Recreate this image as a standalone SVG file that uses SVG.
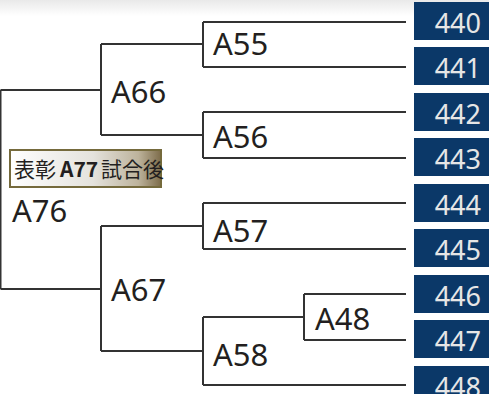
<svg xmlns="http://www.w3.org/2000/svg" width="489" height="394" viewBox="0 0 489 394">
<defs>
<linearGradient id="topband" x1="0" y1="0" x2="0" y2="1">
<stop offset="0" stop-color="#e9e9e9"/>
<stop offset="1" stop-color="#ffffff"/>
</linearGradient>
<linearGradient id="award" x1="0" y1="0" x2="1" y2="0">
<stop offset="0" stop-color="#ffffff"/>
<stop offset="0.55" stop-color="#e4e2dc"/>
<stop offset="0.85" stop-color="#bdb39c"/>
<stop offset="1" stop-color="#7d6c4a"/>
</linearGradient>
<style>
.ln{fill:none;stroke:#333333;stroke-width:2}
.lbl{font-family:"Noto Sans","Liberation Sans",sans-serif;font-size:31px;fill:#231f20}
.num rect{fill:#0b3868}
.num text{font-family:"Noto Sans","Liberation Sans",sans-serif;font-size:27px;fill:#e6e6e6;text-anchor:end}
.aw{font-family:"Noto Sans CJK JP","Noto Sans",sans-serif;font-size:21px;fill:#231f20}
</style>
</defs>
<rect x="0" y="0" width="489" height="394" fill="#ffffff"/>
<rect x="0" y="0" width="489" height="16" fill="url(#topband)"/>
<g id="connectors">
<path class="ln" d="M0.5,90 H101 M0.5,289 H101 M0.5,90 V289"/>
<path class="ln" d="M101,44 V135 M101,44 H203 M101,135 H203"/>
<path class="ln" d="M101,226 V351 M101,226 H203 M101,351 H203"/>
<path class="ln" d="M203,22 V67 M203,22 H406 M203,67 H406"/>
<path class="ln" d="M203,112 V158 M203,112 H406 M203,158 H406"/>
<path class="ln" d="M203,203 V249 M203,203 H406 M203,249 H406"/>
<path class="ln" d="M203,317 V385 M203,317 H304 M203,385 H406"/>
<path class="ln" d="M304,294 V340 M304,294 H406 M304,340 H406"/>
</g>
<g id="A76"><text class="lbl" x="12" y="222">A76</text></g>
<g id="A66"><text class="lbl" x="111" y="103">A66</text></g>
<g id="A67"><text class="lbl" x="111" y="301">A67</text></g>
<g id="A55"><text class="lbl" x="213" y="55">A55</text></g>
<g id="A56"><text class="lbl" x="213" y="148">A56</text></g>
<g id="A57"><text class="lbl" x="213" y="242">A57</text></g>
<g id="A58"><text class="lbl" x="213" y="366">A58</text></g>
<g id="A48"><text class="lbl" x="315" y="330">A48</text></g>
<g id="award">
<rect x="10" y="150" width="151" height="37" fill="url(#award)" stroke="#756a3c" stroke-width="2"/>
<text class="aw" y="177"><tspan x="14">表彰</tspan><tspan x="60" font-weight="bold" font-family="Noto Sans CJK JP, Noto Sans, sans-serif">A77</tspan><tspan x="101">試合後</tspan></text>
</g>
<g id="n440" class="num"><rect x="414" y="2" width="80" height="38"/><text x="481" y="33">440</text></g>
<g id="n441" class="num"><rect x="414" y="47" width="80" height="38"/><text x="481" y="78">441</text></g>
<g id="n442" class="num"><rect x="414" y="93" width="80" height="38"/><text x="481" y="124">442</text></g>
<g id="n443" class="num"><rect x="414" y="138" width="80" height="38"/><text x="481" y="169">443</text></g>
<g id="n444" class="num"><rect x="414" y="184" width="80" height="38"/><text x="481" y="215">444</text></g>
<g id="n445" class="num"><rect x="414" y="229" width="80" height="38"/><text x="481" y="260">445</text></g>
<g id="n446" class="num"><rect x="414" y="275" width="80" height="38"/><text x="481" y="306">446</text></g>
<g id="n447" class="num"><rect x="414" y="320" width="80" height="38"/><text x="481" y="351">447</text></g>
<g id="n448" class="num"><rect x="414" y="366" width="80" height="38"/><text x="481" y="397">448</text></g>
</svg>
